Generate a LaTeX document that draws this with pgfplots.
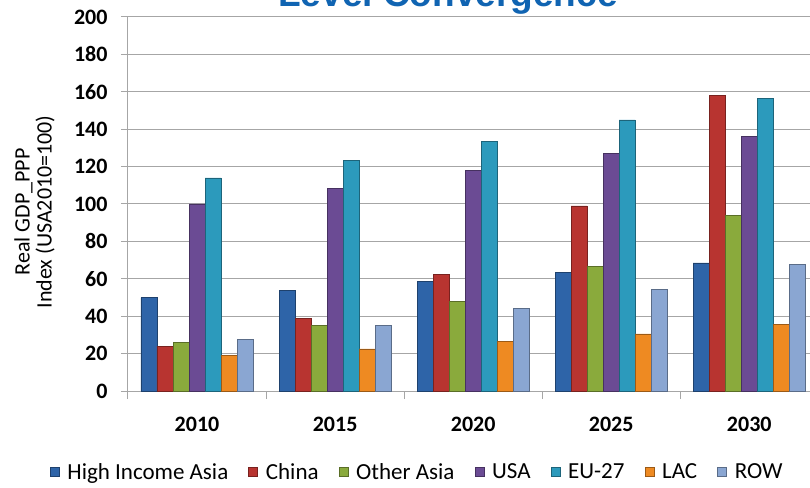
\documentclass[border=0pt]{standalone}
\usepackage{pgfplots}
\pgfplotsset{compat=1.18}
\usepackage{fontspec}
\setmainfont{Carlito}
\newfontfamily\titlefont{Liberation Sans}
\definecolor{cHIA}{HTML}{2E64A8}
\definecolor{cCHN}{HTML}{B83430}
\definecolor{cOA}{HTML}{8AAA3C}
\definecolor{cUSA}{HTML}{6B4B94}
\definecolor{cEU}{HTML}{2C9ABC}
\definecolor{cLAC}{HTML}{EE8A22}
\definecolor{cROW}{HTML}{8AA6D2}
\definecolor{titleblue}{RGB}{16,100,178}
\definecolor{gridgray}{HTML}{A6A6A6}
\pgfplotsset{
  barsty/.style={draw=#1!65!black, line width=0.6pt, fill=#1},
}
\begin{document}
\begin{tikzpicture}[x=1pt,y=1pt]
\begin{axis}[
  at={(0,0)}, anchor=south west,
  scale only axis, width=682pt, height=374pt,
  ybar=0pt, bar width=0.116,
  xmin=-0.5, xmax=4.44, ymin=0, ymax=200,
  ytick={0,20,...,200},
  xtick={0,1,2,3,4},
  xticklabels={2010,2015,2020,2025,2030},
  minor xtick={-0.5,0.5,1.5,2.5,3.5},
  major x tick style={draw=none},
  minor x tick style={draw=gridgray, line width=1pt},
  minor tick length=8pt,
  y tick style={draw=gridgray, line width=1pt},
  major tick length=7pt,
  tick align=outside,
  axis x line*=bottom, axis y line*=left,
  axis line style={draw=gridgray, line width=1pt},
  ymajorgrids, grid style={draw=gridgray, line width=1pt},
  /pgf/number format/assume math mode=true,
  tick label style={font=\fontsize{22}{24}\selectfont\bfseries},
  yticklabel style={xshift=-10pt},
  xticklabel style={yshift=-16pt},
  ylabel={Real GDP\_PPP\\Index (USA2010=100)},
  ylabel style={align=center, font=\fontsize{22}{22}\selectfont, at={(axis description cs:-0.137,0.479)}, anchor=center},
  legend columns=-1,
  legend style={draw=none, fill=none, at={(axis description cs:0.424,-0.217)}, anchor=center,
    font=\fontsize{23}{25}\selectfont,
    /tikz/every even column/.append style={column sep=18pt}},
  legend image code/.code={\draw[#1] (0pt,-4.5pt) rectangle (9pt,4.5pt); \path (15pt,0pt);},
  clip=false,
]
\addplot[barsty=cHIA] coordinates {(0,50) (1,54) (2,58.5) (3,63.5) (4,68.5)};
\addplot[barsty=cCHN] coordinates {(0,24) (1,39) (2,62.5) (3,99) (4,158)};
\addplot[barsty=cOA] coordinates {(0,26) (1,35) (2,48) (3,66.5) (4,94)};
\addplot[barsty=cUSA] coordinates {(0,100) (1,108.5) (2,118) (3,127) (4,136)};
\addplot[barsty=cEU] coordinates {(0,114) (1,123.5) (2,133.5) (3,145) (4,156.5)};
\addplot[barsty=cLAC] coordinates {(0,19) (1,22.5) (2,26.5) (3,30.5) (4,35.5)};
\addplot[barsty=cROW] coordinates {(0,27.5) (1,35) (2,44) (3,54.5) (4,67.5)};
\legend{High Income Asia,China,Other Asia,USA,EU-27,LAC,ROW}
\end{axis}
\node[font=\titlefont\bfseries\fontsize{37}{40}\selectfont, text=titleblue, anchor=base] at (320,384) {Level Convergence};
\pgfresetboundingbox
\useasboundingbox (-128,-96) rectangle (682,391);
\end{tikzpicture}
\end{document}
